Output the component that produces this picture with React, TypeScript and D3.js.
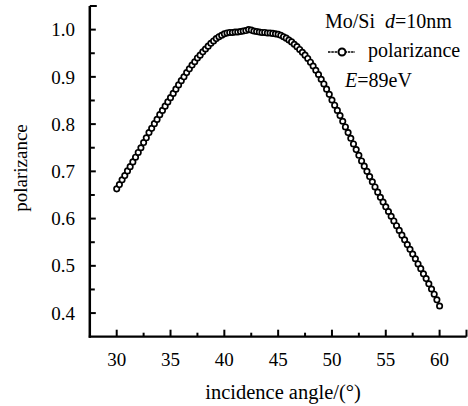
import React from "react";
import * as d3 from "d3";

const angles: number[] = [
  30.0, 30.25, 30.5, 30.75, 31.0, 31.25, 31.5, 31.75, 32.0, 32.25, 32.5, 32.75,
  33.0, 33.25, 33.5, 33.75, 34.0, 34.25, 34.5, 34.75, 35.0, 35.25, 35.5, 35.75,
  36.0, 36.25, 36.5, 36.75, 37.0, 37.25, 37.5, 37.75, 38.0, 38.25, 38.5, 38.75,
  39.0, 39.25, 39.5, 39.75, 40.0, 40.25, 40.5, 40.75, 41.0, 41.25, 41.5, 41.75,
  42.0, 42.25, 42.5, 42.75, 43.0, 43.25, 43.5, 43.75, 44.0, 44.25, 44.5, 44.75,
  45.0, 45.25, 45.5, 45.75, 46.0, 46.25, 46.5, 46.75, 47.0, 47.25, 47.5, 47.75,
  48.0, 48.25, 48.5, 48.75, 49.0, 49.25, 49.5, 49.75, 50.0, 50.25, 50.5, 50.75,
  51.0, 51.25, 51.5, 51.75, 52.0, 52.25, 52.5, 52.75, 53.0, 53.25, 53.5, 53.75,
  54.0, 54.25, 54.5, 54.75, 55.0, 55.25, 55.5, 55.75, 56.0, 56.25, 56.5, 56.75,
  57.0, 57.25, 57.5, 57.75, 58.0, 58.25, 58.5, 58.75, 59.0, 59.25, 59.5, 59.75,
  60.0,
];

const polarizance: number[] = [
  0.663, 0.672, 0.682, 0.691, 0.701, 0.71, 0.72, 0.73, 0.74, 0.75, 0.761, 0.771,
  0.782, 0.791, 0.801, 0.81, 0.82, 0.829, 0.838, 0.847, 0.856, 0.865, 0.874, 0.883,
  0.892, 0.9, 0.909, 0.917, 0.925, 0.932, 0.94, 0.946, 0.953, 0.959, 0.965, 0.971,
  0.976, 0.981, 0.985, 0.988, 0.991, 0.993, 0.994, 0.994, 0.995, 0.995, 0.996, 0.997,
  0.998, 1.0, 0.999, 0.997, 0.996, 0.995, 0.994, 0.994, 0.993, 0.993, 0.992, 0.991,
  0.99, 0.988, 0.985, 0.982, 0.978, 0.974, 0.969, 0.964, 0.958, 0.952, 0.946, 0.939,
  0.931, 0.923, 0.914, 0.905, 0.895, 0.885, 0.874, 0.863, 0.851, 0.84, 0.829, 0.818,
  0.806, 0.794, 0.782, 0.77, 0.758, 0.746, 0.734, 0.722, 0.711, 0.7, 0.689, 0.678,
  0.667, 0.656, 0.645, 0.635, 0.625, 0.615, 0.605, 0.595, 0.585, 0.575, 0.565, 0.555,
  0.545, 0.535, 0.525, 0.515, 0.504, 0.494, 0.483, 0.473, 0.462, 0.451, 0.44, 0.428,
  0.415,
];

const xMajorTicks: number[] = [30, 35, 40, 45, 50, 55, 60];
const xMinorTicks: number[] = [32.5, 37.5, 42.5, 47.5, 52.5, 57.5, 62.5];
const yMajorTicks: number[] = [0.4, 0.5, 0.6, 0.7, 0.8, 0.9, 1.0];
const yMinorTicks: number[] = [0.45, 0.55, 0.65, 0.75, 0.85, 0.95, 1.05];

const W = 468;
const H = 406;
const FONT = "Liberation Serif";

export default function App() {
  const x = d3.scaleLinear().domain([27.5, 62.5]).range([89.8, 466.5]);
  const y = d3.scaleLinear().domain([0.35, 1.05]).range([336.7, 6]);
  const pts = angles.map((a, i) => [a, polarizance[i]] as [number, number]);
  const line = d3
    .line<[number, number]>()
    .x((d) => x(d[0]))
    .y((d) => y(d[1]));
  const fmt = d3.format(".1f");
  const x0 = x(27.5);
  const y0 = y(0.35);
  const T = { fontFamily: FONT, fill: "#000" } as React.CSSProperties;

  return (
    <svg
      width={W}
      height={H}
      style={{ position: "absolute", left: 0, top: 0, background: "#fff" }}
    >
      <rect width={W} height={H} fill="#fff" />
      {/* axes */}
      <line x1={x0} x2={x0} y1={y(1.05)} y2={y0 + 1} stroke="#000" strokeWidth={2.5} />
      <line x1={x0 - 1} x2={x(62.5)} y1={y0} y2={y0} stroke="#000" strokeWidth={2.3} />
      {yMajorTicks.map((t) => (
        <g key={"ym" + t}>
          <line x1={x0} x2={x0 + 6} y1={y(t)} y2={y(t)} stroke="#000" strokeWidth={2} />
          <text x={75} y={y(t)} dy="0.35em" textAnchor="end" fontSize={19} style={T}>
            {fmt(t)}
          </text>
        </g>
      ))}
      {yMinorTicks.map((t) => (
        <line key={"yn" + t} x1={x0} x2={x0 + (t > 1.04 ? 7 : 5)} y1={y(t)} y2={y(t)} stroke="#000" strokeWidth={2} />
      ))}
      {xMajorTicks.map((t) => (
        <g key={"xm" + t}>
          <line x1={x(t)} x2={x(t)} y1={y0} y2={y0 - 7} stroke="#000" strokeWidth={2} />
          <text x={x(t)} y={366} textAnchor="middle" fontSize={19} style={T}>
            {t}
          </text>
        </g>
      ))}
      {xMinorTicks.map((t) => (
        <line key={"xn" + t} x1={x(t)} x2={x(t)} y1={y0} y2={y0 - (t > 62 ? 7 : 4)} stroke="#000" strokeWidth={2} />
      ))}
      {/* axis titles */}
      <text x={283} y={399} textAnchor="middle" fontSize={20.5} style={T}>
        incidence angle/(°)
      </text>
      <text
        transform={`translate(27,168) rotate(-90)`}
        textAnchor="middle"
        fontSize={19}
        style={T}
      >
        polarizance
      </text>
      {/* series */}
      <path d={line(pts) || ""} fill="none" stroke="#000" strokeWidth={1.4} />
      {pts.map((d, i) => (
        <circle key={i} cx={x(d[0])} cy={y(d[1])} r={2.7} fill="#fff" stroke="#000" strokeWidth={1.7} />
      ))}
      {/* legend */}
      <text x={325} y={28} fontSize={20} style={T}>
        Mo/Si{"\u00a0\u00a0"}
        <tspan fontStyle="italic">d</tspan>=10nm
      </text>
      <line x1={328} x2={355} y1={52} y2={52} stroke="#000" strokeWidth={1.6} strokeDasharray="2.5,0.8" />
      <circle cx={342} cy={52} r={3.5} fill="#fff" stroke="#000" strokeWidth={2} />
      <text x={368} y={57} fontSize={20} style={T}>
        polarizance
      </text>
      <text x={345} y={87} fontSize={20} style={T}>
        <tspan fontStyle="italic">E</tspan>=89eV
      </text>
    </svg>
  );
}
